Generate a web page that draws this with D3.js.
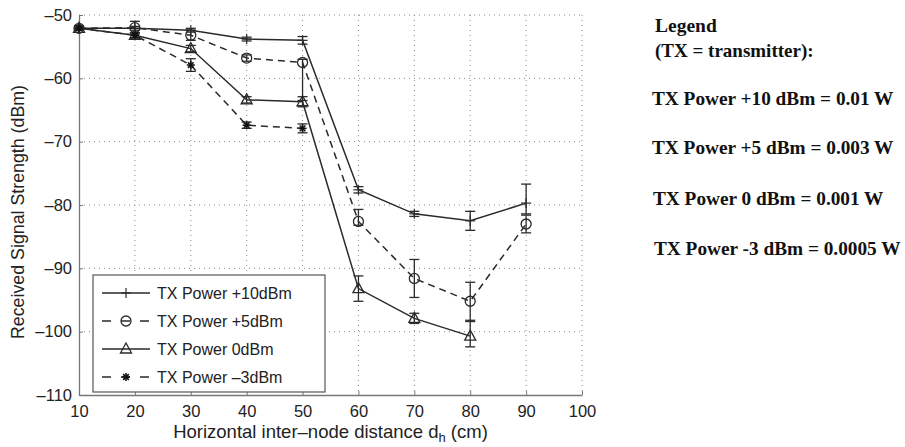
<!DOCTYPE html>
<html>
<head>
<meta charset="utf-8">
<script src="https://cdn.jsdelivr.net/npm/d3@7"></script>
<style>
  body { margin: 0; background: #fff; }
  svg text { font-family: "Liberation Sans", Arial, sans-serif; fill: #222; }
  .note text { font-family: "Liberation Serif", "Times New Roman", serif; font-weight: bold; fill: #111; }
</style>
</head>
<body>
<div id="wrapper"></div>
<script>
// distances (cm)
const distances = [10, 20, 30, 40, 50, 60, 70, 80, 90]
const xTicks = [10, 20, 30, 40, 50, 60, 70, 80, 90, 100]
const yTicks = [-110, -100, -90, -80, -70, -60, -50]

// TX +10 dBm
const p10 = [-52.1, -52.1, -52.4, -53.8, -54.0, -77.6, -81.4, -82.5, -79.7]
const p10Up = [0.3, 0.3, 0.3, 0.3, 0.6, 0.5, 0.4, 1.5, 3.0]
const p10Down = [0.3, 0.3, 0.3, 0.3, 0.6, 0.5, 0.4, 1.5, 1.7]
// TX +5 dBm
const p5 = [-52.1, -52.0, -53.2, -56.8, -57.5, -82.6, -91.6, -95.2, -83.0]
const p5Up = [0.3, 1.0, 0.8, 0.5, 0.5, 1.9, 3.0, 3.0, 1.4]
const p5Down = [0.3, 1.0, 0.8, 0.5, 6.0, 0.6, 3.0, 3.0, 1.4]
// TX 0 dBm
const p0 = [-52.1, -53.2, -55.3, -63.4, -63.7, -93.2, -97.9, -100.7]
const p0Up = [0.3, 0.4, 0.5, 0.5, 0.8, 2.0, 0.8, 2.3]
const p0Down = [0.3, 0.4, 0.5, 0.5, 0.8, 2.0, 0.8, 1.7]
// TX -3 dBm
const m3 = [-52.1, -53.2, -57.9, -67.4, -67.9]
const m3Err = [0.3, 0.4, 1.0, 0.5, 0.7]

const legendLabels = ["TX Power +10dBm", "TX Power +5dBm", "TX Power 0dBm", "TX Power \u20133dBm"]
const noteLines = ["TX Power +10 dBm = 0.01 W", "TX Power +5 dBm = 0.003 W", "TX Power 0 dBm = 0.001 W", "TX Power -3 dBm = 0.0005 W"]

const toPoints = (vals, up, down) => vals.map((v, i) => ({x: distances[i], y: v, up: up[i], down: down[i]}))

const series = [
    {name: legendLabels[0], data: toPoints(p10, p10Up, p10Down), dash: null, marker: "plus"},
    {name: legendLabels[1], data: toPoints(p5, p5Up, p5Down), dash: "7,5", marker: "circle"},
    {name: legendLabels[2], data: toPoints(p0, p0Up, p0Down), dash: null, marker: "triangle"},
    {name: legendLabels[3], data: toPoints(m3, m3Err, m3Err), dash: "7,5", marker: "star"},
]

const dimensions = {
    width: 905,
    height: 447,
    margins: {top: 15, left: 79, right: 323, bottom: 52}
}
dimensions.boundedWidth = dimensions.width - dimensions.margins.left - dimensions.margins.right
dimensions.boundedHeight = dimensions.height - dimensions.margins.top - dimensions.margins.bottom

const ink = "#2a2a2a"
const gridColor = "#888"

const svg = d3.select("#wrapper").append("svg")
    .attr("width", dimensions.width)
    .attr("height", dimensions.height)

const bounds = svg.append("g")
    .attr("transform", `translate(${dimensions.margins.left},${dimensions.margins.top})`)

const xScale = d3.scaleLinear().domain([10, 100]).range([0, dimensions.boundedWidth])
const yScale = d3.scaleLinear().domain([-110, -50]).range([dimensions.boundedHeight, 0])

// dotted grid
bounds.append("g").selectAll("line").data(xTicks.slice(1)).join("line")
    .attr("x1", d => xScale(d)).attr("x2", d => xScale(d))
    .attr("y1", 0).attr("y2", dimensions.boundedHeight)
    .attr("stroke", gridColor).attr("stroke-width", 1).attr("stroke-dasharray", "1,4")
bounds.append("g").selectAll("line").data(yTicks.slice(1)).join("line")
    .attr("x1", 0).attr("x2", dimensions.boundedWidth)
    .attr("y1", d => yScale(d)).attr("y2", d => yScale(d))
    .attr("stroke", gridColor).attr("stroke-width", 1).attr("stroke-dasharray", "1,4")

// axes
const fmt = d => d < 0 ? "\u2013" + Math.abs(d) : d
const xAxis = bounds.append("g")
    .attr("transform", `translate(0,${dimensions.boundedHeight})`)
    .call(d3.axisBottom(xScale).tickValues(xTicks).tickSizeInner(-4).tickSizeOuter(0).tickPadding(8))
const yAxis = bounds.append("g")
    .call(d3.axisLeft(yScale).tickValues(yTicks).tickFormat(fmt).tickSizeInner(-4).tickSizeOuter(0).tickPadding(8))
;[xAxis, yAxis].forEach(ax => {
    ax.select(".domain").attr("stroke", "#777").attr("stroke-width", 1.3)
    ax.selectAll(".tick line").attr("stroke", "#777")
    ax.selectAll(".tick text").attr("font-size", 16.5).attr("fill", "#222")
        .attr("font-family", "Liberation Sans, Arial, sans-serif")
})
xAxis.selectAll(".tick text").attr("dy", "0.85em")
yAxis.selectAll(".tick text").attr("dx", "1px")

// axis titles
svg.append("text")
    .attr("transform", `translate(24,${dimensions.margins.top + dimensions.boundedHeight / 2 + 7}) rotate(-90)`)
    .attr("text-anchor", "middle")
    .attr("font-size", 17.8)
    .text("Received Signal Strength (dBm)")
const xTitle = svg.append("text")
    .attr("x", dimensions.margins.left + dimensions.boundedWidth / 2)
    .attr("y", 438)
    .attr("text-anchor", "middle")
    .attr("font-size", 18.5)
xTitle.append("tspan").text("Horizontal inter\u2013node distance d")
xTitle.append("tspan").attr("font-size", 13).attr("dy", 4).text("h")
xTitle.append("tspan").attr("dy", -4).text(" (cm)")

// markers
const drawMarker = (g, type, cx, cy) => {
    if (type === "plus") {
        g.append("line").attr("x1", cx).attr("x2", cx).attr("y1", cy - 5).attr("y2", cy + 5)
            .attr("stroke", ink).attr("stroke-width", 1.2)
        g.append("line").attr("x1", cx - 5).attr("x2", cx + 5).attr("y1", cy).attr("y2", cy)
            .attr("stroke", ink).attr("stroke-width", 1.2)
    } else if (type === "circle") {
        g.append("circle").attr("cx", cx).attr("cy", cy).attr("r", 5)
            .attr("fill", "none").attr("stroke", ink).attr("stroke-width", 1.3)
    } else if (type === "triangle") {
        g.append("path")
            .attr("d", `M${cx},${cy - 6}L${cx + 5.5},${cy + 4}L${cx - 5.5},${cy + 4}Z`)
            .attr("fill", "none").attr("stroke", ink).attr("stroke-width", 1.3)
    } else if (type === "star") {
        const r = 4
        ;[0, 45, 90, 135].forEach(a => {
            const dx = r * Math.cos(a * Math.PI / 180), dy = r * Math.sin(a * Math.PI / 180)
            g.append("line").attr("x1", cx - dx).attr("x2", cx + dx).attr("y1", cy - dy).attr("y2", cy + dy)
                .attr("stroke", "#111").attr("stroke-width", 1.6)
        })
    }
}

const lineGenerator = d3.line()
    .x(d => xScale(d.x))
    .y(d => yScale(d.y))

series.forEach(s => {
    const g = bounds.append("g")
    g.append("path")
        .attr("d", lineGenerator(s.data))
        .attr("fill", "none")
        .attr("stroke", ink)
        .attr("stroke-width", 1.5)
        .attr("stroke-dasharray", s.dash)
    // error bars
    s.data.forEach(d => {
        const x = xScale(d.x)
        const yTop = yScale(d.y + d.up), yBot = yScale(d.y - d.down)
        g.append("line").attr("x1", x).attr("x2", x).attr("y1", yTop).attr("y2", yBot)
            .attr("stroke", ink).attr("stroke-width", 1.3)
        ;[yTop, yBot].forEach(yy => g.append("line")
            .attr("x1", x - 5).attr("x2", x + 5).attr("y1", yy).attr("y2", yy)
            .attr("stroke", ink).attr("stroke-width", 1.3))
        drawMarker(g, s.marker, x, yScale(d.y))
    })
})

// legend box
const legend = svg.append("g").attr("transform", "translate(93,275)")
legend.append("rect")
    .attr("width", 232).attr("height", 117)
    .attr("fill", "#fff").attr("stroke", "#555").attr("stroke-width", 1.2)
series.forEach((s, i) => {
    const y = 18 + i * 28
    legend.append("line").attr("x1", 9).attr("x2", 57).attr("y1", y).attr("y2", y)
        .attr("stroke", ink).attr("stroke-width", 1.4)
        .attr("stroke-dasharray", s.dash ? "9,10" : null)
    drawMarker(legend, s.marker, 33, y)
    legend.append("text").attr("x", 64).attr("y", y).attr("dy", "0.36em")
        .attr("font-size", 16).text(s.name)
})

// note on the right
const note = svg.append("g").attr("class", "note")
note.append("text").attr("x", 655).attr("y", 32).attr("font-size", 19.5).text("Legend")
note.append("text").attr("x", 655).attr("y", 57).attr("font-size", 19).text("(TX = transmitter):")
const noteY = [98, 147, 198, 248]
const noteX = [652, 652, 653, 654]
noteLines.forEach((t, i) => {
    note.append("text").attr("x", noteX[i]).attr("y", noteY[i]).attr("dy", "0.35em")
        .attr("font-size", 19.3).text(t)
})
</script>
</body>
</html>
